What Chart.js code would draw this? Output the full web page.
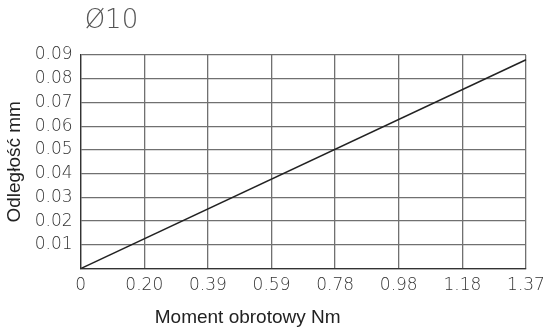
<!DOCTYPE html>
<html>
<head>
<meta charset="utf-8">
<script src="https://cdn.jsdelivr.net/npm/chart.js@4/dist/chart.umd.min.js"></script>
<style>
  html, body { margin: 0; padding: 0; background: #fff; }
  #wrap { width: 549px; height: 331px; position: relative; }
</style>
</head>
<body>
<div id="wrap"><canvas id="c" width="549" height="331"></canvas></div>
<script>
// Torque (Nm) tick labels and measured deflection (mm)
const xLabels = ['0', '0.20', '0.39', '0.59', '0.78', '0.98', '1.18', '1.37'];
const torque = ['0', '1.37'];
const distance = [0, 0.088];
const yTicks = [0, 0.01, 0.02, 0.03, 0.04, 0.05, 0.06, 0.07, 0.08, 0.09];

const titleText = 'Ø10';
const xTitle = 'Moment obrotowy Nm';
const yTitle = 'Odległość mm';

const thinFont = '"DejaVu Sans ExtraLight", "DejaVu Sans Light", "DejaVu Sans", sans-serif';
const sansFont = '"Liberation Sans", Arial, sans-serif';

// Draws the heading and the horizontal axis caption
const captions = {
  id: 'captions',
  afterDraw(chart) {
    const ctx = chart.ctx;
    const area = chart.chartArea;
    ctx.save();
    ctx.fillStyle = '#555';
    ctx.font = '200 26px ' + thinFont;
    ctx.textAlign = 'left';
    ctx.textBaseline = 'middle';
    ctx.fillText(titleText, area.left + 4, 21);
    ctx.fillStyle = '#222';
    ctx.font = '19px ' + sansFont;
    ctx.textAlign = 'center';
    ctx.fillText(xTitle, area.left + 167, 318);
    ctx.restore();
  }
};

new Chart(document.getElementById('c'), {
  type: 'line',
  data: {
    labels: xLabels,
    datasets: [{
      data: torque.map((t, i) => ({ x: t, y: distance[i] })),
      borderColor: '#222',
      borderWidth: 1.5,
      pointRadius: 0,
      fill: false,
      tension: 0
    }]
  },
  options: {
    responsive: false,
    animation: false,
    layout: { padding: { top: 55, right: 23, bottom: 28, left: 3 } },
    plugins: { legend: { display: false }, tooltip: { enabled: false } },
    scales: {
      x: {
        type: 'category',
        offset: false,
        // last label may overhang the right margin slightly
        afterFit(axis) { axis.paddingRight = 0; },
        grid: { color: '#707070', lineWidth: 1.3, drawTicks: false },
        border: { color: '#333', width: 1.3 },
        ticks: {
          color: '#333',
          font: { family: thinFont, size: 17, weight: '200' },
          padding: 7,
          maxRotation: 0,
          autoSkip: false
        }
      },
      y: {
        min: 0,
        max: 0.09,
        afterBuildTicks(axis) { axis.ticks = yTicks.map(v => ({ value: v })); },
        grid: { color: '#707070', lineWidth: 1.3, drawTicks: false },
        border: { color: '#333', width: 1.3 },
        ticks: {
          color: '#333',
          font: { family: thinFont, size: 17, weight: '200' },
          padding: 8,
          callback: v => (v === 0 ? '' : v.toFixed(2))
        },
        title: {
          display: true,
          text: yTitle,
          color: '#222',
          font: { family: sansFont, size: 19 },
          padding: { top: 0, bottom: 1 }
        }
      }
    }
  },
  plugins: [captions]
});
</script>
</body>
</html>
